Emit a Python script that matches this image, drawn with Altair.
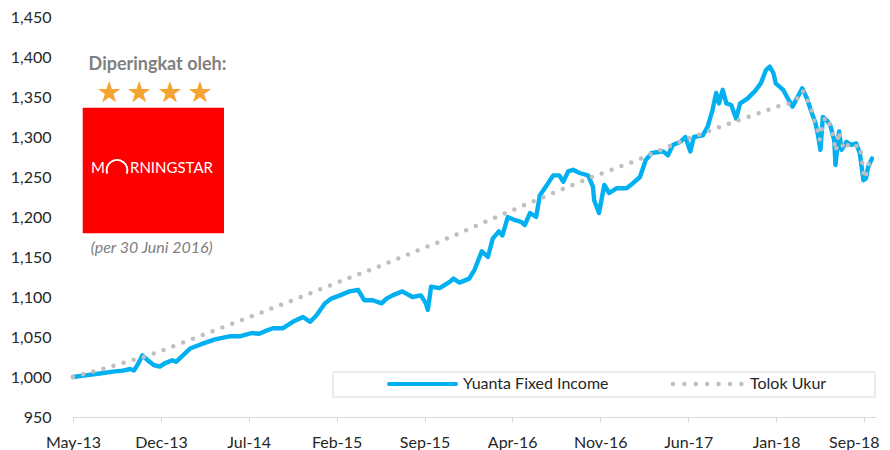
import altair as alt
import pandas as pd

# ---------------- data ----------------
fund_dates = [
    "2013-05-01", "2013-06-01", "2013-07-01", "2013-08-13", "2013-09-01", "2013-09-19",
    "2013-09-28", "2013-10-07", "2013-10-19", "2013-11-01", "2013-11-16", "2013-12-01",
    "2013-12-13", "2014-01-01", "2014-01-10", "2014-01-25", "2014-02-15", "2014-03-13",
    "2014-04-16", "2014-05-25", "2014-06-18", "2014-07-16", "2014-08-03", "2014-08-16",
    "2014-09-06", "2014-10-01", "2014-10-25", "2014-11-19", "2014-12-07", "2014-12-22",
    "2015-01-12", "2015-01-28", "2015-02-18", "2015-03-14", "2015-04-04", "2015-04-19",
    "2015-05-10", "2015-06-01", "2015-06-13", "2015-06-28", "2015-07-22", "2015-08-16",
    "2015-09-06", "2015-09-18", "2015-09-23", "2015-10-01", "2015-10-22", "2015-11-16",
    "2015-11-25", "2015-12-10", "2016-01-03", "2016-01-16", "2016-02-03", "2016-02-18",
    "2016-03-01", "2016-03-16", "2016-03-25", "2016-04-07", "2016-04-25", "2016-05-10",
    "2016-05-19", "2016-06-01", "2016-06-16", "2016-06-25", "2016-07-10", "2016-07-28",
    "2016-08-12", "2016-08-22", "2016-09-03", "2016-09-15", "2016-10-01", "2016-10-22",
    "2016-11-03", "2016-11-06", "2016-11-18", "2016-12-01", "2016-12-13", "2017-01-01",
    "2017-01-25", "2017-02-09", "2017-02-27", "2017-03-13", "2017-03-28", "2017-04-25",
    "2017-05-07", "2017-05-19", "2017-06-07", "2017-06-19", "2017-07-01", "2017-07-10",
    "2017-08-01", "2017-08-13", "2017-08-25", "2017-09-03", "2017-09-10", "2017-09-19",
    "2017-09-28", "2017-10-10", "2017-10-22", "2017-11-01", "2017-11-19", "2017-12-07",
    "2017-12-22", "2018-01-04", "2018-01-13", "2018-01-22", "2018-01-28", "2018-02-15",
    "2018-03-01", "2018-03-10", "2018-03-25", "2018-04-03", "2018-04-15", "2018-04-24",
    "2018-05-06", "2018-05-12", "2018-05-18", "2018-05-24", "2018-06-02", "2018-06-11",
    "2018-06-21", "2018-06-24", "2018-07-03", "2018-07-09", "2018-07-21", "2018-08-02",
    "2018-08-14", "2018-08-23", "2018-09-01", "2018-09-07", "2018-09-13", "2018-09-22",
]
fund_values = [
    1000, 1002, 1004, 1007, 1008, 1010,
    1008, 1015, 1027, 1021, 1015, 1013,
    1017, 1021, 1019, 1026, 1036, 1041,
    1047, 1051, 1051, 1055, 1054, 1057,
    1061, 1061, 1069, 1075, 1069, 1077,
    1092, 1098, 1102, 1107, 1109, 1096,
    1096, 1092, 1098, 1102, 1107, 1100,
    1102, 1092, 1084, 1113, 1111, 1119,
    1123, 1118, 1123, 1134, 1157, 1150,
    1173, 1182, 1177, 1200, 1196, 1194,
    1190, 1205, 1200, 1227, 1238, 1252,
    1252, 1244, 1257, 1259, 1255, 1252,
    1238, 1221, 1205, 1240, 1230, 1236,
    1236, 1242, 1250, 1271, 1280, 1282,
    1277, 1290, 1294, 1300, 1282, 1300,
    1302, 1313, 1334, 1355, 1342, 1359,
    1342, 1340, 1323, 1342, 1348, 1357,
    1367, 1384, 1388, 1380, 1367, 1359,
    1346, 1338, 1352, 1361, 1348, 1334,
    1317, 1302, 1284, 1325, 1321, 1315,
    1296, 1265, 1307, 1284, 1294, 1290,
    1292, 1280, 1246, 1248, 1263, 1273,
]

bench_dates = [
    "2013-05-01", "2013-07-19", "2013-11-04", "2014-03-10", "2014-07-16", "2014-10-25",
    "2015-02-06", "2015-05-19", "2015-08-28", "2015-10-22", "2016-02-21", "2016-06-25",
    "2016-11-01", "2017-02-15", "2017-05-22", "2017-09-03", "2017-12-19", "2018-02-06",
    "2018-03-04", "2018-03-25", "2018-04-04", "2018-04-16", "2018-04-24", "2018-04-28",
    "2018-05-03", "2018-05-10", "2018-05-16", "2018-05-25", "2018-06-01", "2018-06-07",
    "2018-06-16", "2018-06-21", "2018-06-25", "2018-07-03", "2018-07-07", "2018-07-16",
    "2018-07-28", "2018-08-09", "2018-08-22", "2018-08-28", "2018-08-30", "2018-09-03",
    "2018-09-12", "2018-09-15", "2018-09-23",
]
bench_values = [
    1000, 1011, 1027, 1051, 1076, 1096,
    1117, 1137, 1158, 1169, 1196, 1223,
    1250, 1270, 1291, 1311, 1330, 1339,
    1342, 1349, 1358, 1346, 1338, 1330,
    1319, 1311, 1296, 1319, 1325, 1319,
    1309, 1294, 1282, 1307, 1296, 1284,
    1292, 1288, 1290, 1275, 1263, 1248,
    1259, 1271, 1277,
]

tick_dates = [
    "2013-05-01", "2013-12-04", "2014-07-08", "2015-02-10", "2015-09-15",
    "2016-04-18", "2016-11-21", "2017-06-26", "2018-01-29", "2018-09-02",
]
y_ticks = [950, 1000, 1050, 1100, 1150, 1200, 1250, 1300, 1350, 1400, 1450]
domain_dates = ["2013-05-01", "2018-10-02"]

series_names = ["Yuanta Fixed Income", "Tolok Ukur"]
badge_title = "Diperingkat oleh:"
badge_note = "(per 30 Juni 2016)"

FONT = "Lato"
BLUE = "#00B0F0"
GREY_DOT = "#BFBFBF"
TEXT = "#262626"


def dt(s):
    y, m, d = map(int, s.split("-"))
    return alt.DateTime(year=y, month=m, date=d)


fund_df = pd.DataFrame({"date": pd.to_datetime(fund_dates), "value": fund_values})
bench_df = pd.DataFrame({"date": pd.to_datetime(bench_dates), "value": bench_values})

x_scale = alt.Scale(domain=[dt(s) for s in domain_dates])
y_scale = alt.Scale(domain=[y_ticks[0], y_ticks[-1]], nice=False, zero=False)

x_axis = alt.Axis(
    values=[dt(s) for s in tick_dates], format="%b-%y", title=None, grid=False,
    domainColor="#D9D9D9", domainWidth=1, tickColor="#D9D9D9", tickSize=5,
    labelPadding=12, labelFont=FONT, labelFontSize=16, labelColor=TEXT,
    labelFlush=False, labelOverlap=False,
    labelOffset={"condition": {"test": "datum.value > 1530000000000", "value": -10}, "value": 0},
)
y_axis = alt.Axis(
    values=y_ticks, format=",.0f", title=None, grid=False, domain=False, ticks=False,
    labelPadding=22, labelFont=FONT, labelFontSize=16, labelColor=TEXT,
)

fund = alt.Chart(fund_df).mark_line(
    color=BLUE, strokeWidth=4.4, strokeJoin="round", strokeCap="round"
).encode(
    x=alt.X("date:T", scale=x_scale, axis=x_axis),
    y=alt.Y("value:Q", scale=y_scale, axis=y_axis),
)

bench = alt.Chart(bench_df).mark_line(
    color=GREY_DOT, strokeWidth=4.5, strokeDash=[0, 10.5], strokeCap="round"
).encode(
    x=alt.X("date:T", scale=x_scale, axis=x_axis),
    y=alt.Y("value:Q", scale=y_scale, axis=y_axis),
)

one = alt.Data(values=[{"k": 1}])

# legend (decoration)
leg_box = alt.Chart(one).mark_rect(fill="white", stroke="#D9D9D9", strokeWidth=1).encode(
    x=alt.value(260), x2=alt.value(802), y=alt.value(355), y2=alt.value(380)
)
leg_blue = alt.Chart(one).mark_rule(color=BLUE, strokeWidth=4, strokeCap="round").encode(
    x=alt.value(316), x2=alt.value(383), y=alt.value(367)
)
leg_blue_txt = alt.Chart(one).mark_text(
    text=series_names[0], font=FONT, fontSize=16, color=TEXT, align="left", baseline="middle"
).encode(x=alt.value(390), y=alt.value(367))
leg_grey = alt.Chart(one).mark_rule(
    color=GREY_DOT, strokeWidth=4.5, strokeDash=[0, 11.4], strokeCap="round"
).encode(x=alt.value(600), x2=alt.value(670), y=alt.value(367))
leg_grey_txt = alt.Chart(one).mark_text(
    text=series_names[1], font=FONT, fontSize=16, color=TEXT, align="left", baseline="middle"
).encode(x=alt.value(677), y=alt.value(367))

# Morningstar badge (decoration)
badge_t = alt.Chart(one).mark_text(
    text=badge_title, font=FONT, fontSize=18, fontWeight="bold", color="#808080",
    align="center", baseline="alphabetic",
).encode(x=alt.value(84.5), y=alt.value(53))
stars = [
    alt.Chart(one).mark_text(
        text="\u2605", font="DejaVu Sans", fontSize=29, color="#F5A331",
        align="center", baseline="middle",
    ).encode(x=alt.value(sx), y=alt.value(76))
    for sx in (36.3, 66.3, 97, 127)
]
red = alt.Chart(one).mark_rect(fill="#FF0000").encode(
    x=alt.value(9.7), x2=alt.value(151), y=alt.value(90.7), y2=alt.value(216.3)
)
logo_m = alt.Chart(one).mark_text(
    text="M", font=FONT, fontSize=15, color="white", align="left", baseline="alphabetic"
).encode(x=alt.value(18), y=alt.value(156))
logo_arc = alt.Chart(one).mark_point(
    shape="M -0.95 0.25 A 1 1 0 1 1 0.95 0.25", filled=False, size=430,
    color="white", strokeWidth=2, opacity=1,
).encode(x=alt.value(44), y=alt.value(154))
logo_rest = alt.Chart(one).mark_text(
    text="RNINGSTAR", font=FONT, fontSize=15, color="white", align="left", baseline="alphabetic"
).encode(x=alt.value(57), y=alt.value(156))
badge_n = alt.Chart(one).mark_text(
    text=badge_note, font=FONT, fontSize=16, fontStyle="italic", color="#808080",
    align="center", baseline="alphabetic",
).encode(x=alt.value(78.7), y=alt.value(235.5))

chart = alt.layer(
    fund, bench, leg_box, leg_blue, leg_blue_txt, leg_grey, leg_grey_txt,
    badge_t, *stars, red, logo_m, logo_arc, logo_rest, badge_n,
).properties(
    width=803, height=400,
    autosize=alt.AutoSizeParams(type="none"),
    padding={"left": 65, "top": 9, "right": 6, "bottom": 33},
).configure_view(stroke=None)

chart.save("out.html", embed_options={"renderer": "svg", "actions": False})
